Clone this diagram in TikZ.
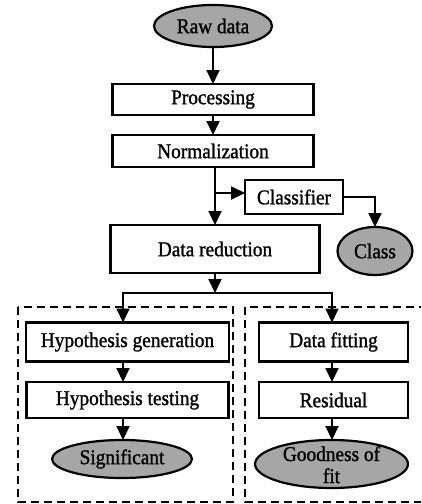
\documentclass[tikz,border=0pt]{standalone}
\usepackage{fontspec}
\setmainfont{Liberation Serif}[FakeStretch=0.92,FakeBold=1.2]
\usetikzlibrary{shapes.geometric,arrows.meta,calc}
\definecolor{fillgray}{RGB}{166,166,166}
\begin{document}
\begin{tikzpicture}[x=1pt,y=-1pt,
  every node/.style={font=\fontsize{21}{22}\selectfont, inner sep=0pt, outer sep=0pt},
  stepbox/.style={draw, line width=2.2pt, rectangle, fill=white},
  termnode/.style={draw, line width=2.2pt, ellipse, fill=fillgray},
  arr/.style={line width=2pt, -{Triangle[width=13pt,length=14pt]}},
  conn/.style={line width=2pt},
  groupbox/.style={draw, line width=2.4pt, dash pattern=on 8pt off 5pt}]
\useasboundingbox (0,0) rectangle (421,504);
\clip (0,0) rectangle (421,504);
% nodes
\node[termnode, minimum width=118pt, minimum height=42pt] (raw) at (213,26) {Raw data};
\node[stepbox, minimum width=201pt, minimum height=31pt] (proc) at (213,99.5) {Processing};
\node[stepbox, minimum width=201pt, minimum height=32pt] (norm) at (213,151) {Normalization};
\node[stepbox, minimum width=98pt, minimum height=34pt] (clf) at (294,197) {Classifier};
\node[stepbox, minimum width=209pt, minimum height=48pt] (red) at (215,249) {Data reduction};
\node[termnode, minimum width=75pt, minimum height=48pt] (cls) at (375,251) {Class};
% groups
\draw[groupbox] (18,307) rectangle (233,502);
\draw[groupbox] (245,307) rectangle (440,502);
\node[stepbox, minimum width=203pt, minimum height=39pt] (hg) at (127.5,342) {Hypothesis generation};
\node[stepbox, minimum width=202pt, minimum height=36pt] (ht) at (127.5,400) {Hypothesis testing};
\node[termnode, minimum width=140pt, minimum height=38pt] (sig) at (122,459) {Significant};
\node[stepbox, minimum width=149pt, minimum height=39pt] (df) at (333.5,342) {Data fitting};
\node[stepbox, minimum width=149pt, minimum height=36pt] (res) at (333.5,400) {Residual};
\node[termnode, minimum width=153pt, minimum height=48pt] (gof) at (331.5,464)
  {\raisebox{-19pt}[0pt][0pt]{\begin{tabular}[b]{@{}c@{}}Goodness of\\fit\end{tabular}}};
% helper coordinates
\coordinate (br) at (215,193);
\coordinate (sp) at (215,293);
\coordinate (col1) at (123,0);
\coordinate (col2) at (332,0);
% connectors
\draw[arr] (raw) -- (proc);
\draw[arr] (proc) -- (norm);
\draw[conn] (norm.south -| br) -- (br);
\draw[arr] (br) -- (red.north -| br);
\draw[arr] (br) -- (br -| clf.west);
\draw[arr] (clf.east) -| (cls.north);
\draw[arr] (red.south -| sp) -- (sp);
\draw[arr] (sp) -| (hg.north -| col1);
\draw[arr] (sp) -| (df.north -| col2);
\draw[arr] (hg.south -| col1) -- (ht.north -| col1);
\draw[arr] (ht.south -| col1) -- (sig.north -| col1);
\draw[arr] (df.south -| col2) -- (res.north -| col2);
\draw[arr] (res.south -| col2) -- (gof.north -| col2);
\end{tikzpicture}
\end{document}
